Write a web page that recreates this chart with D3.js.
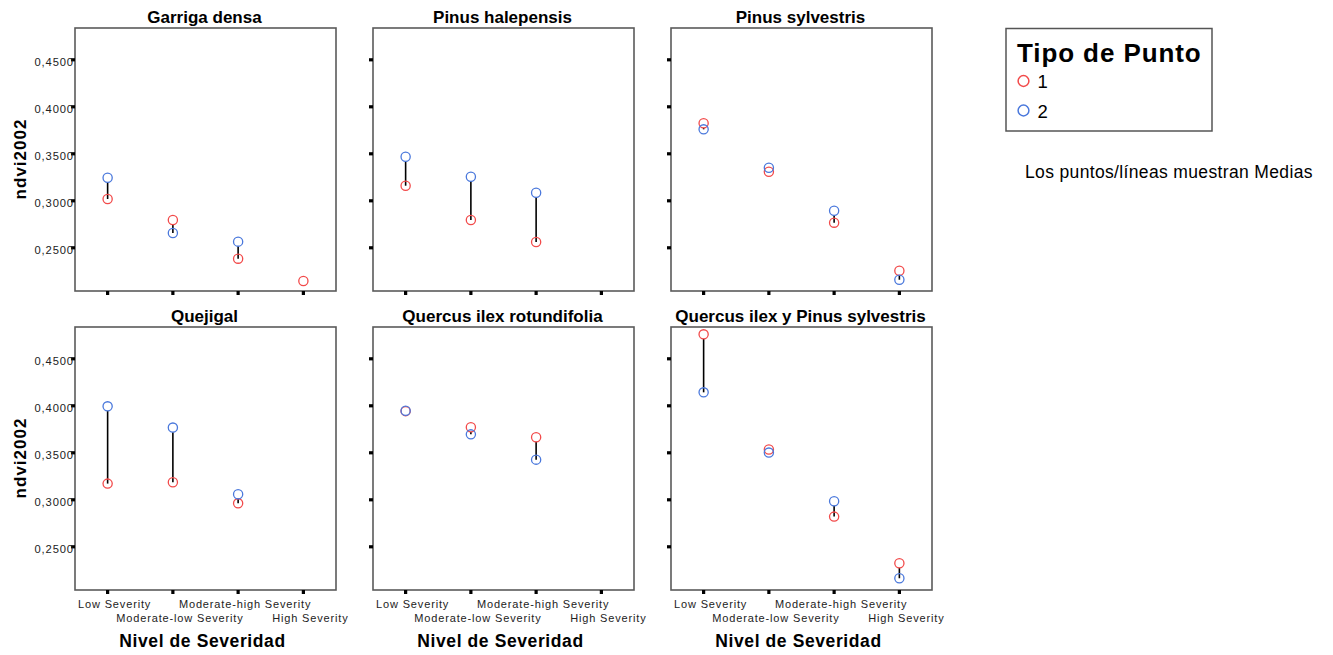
<!DOCTYPE html>
<html>
<head>
<meta charset="utf-8">
<script src="https://cdn.jsdelivr.net/npm/d3@7"></script>
<style>
  html, body { margin: 0; padding: 0; background: #fff; }
  svg { display: block; font-family: "Liberation Sans", Arial, sans-serif; }
</style>
</head>
<body>
<svg id="chart" width="1333" height="655"></svg>
<script>
// Severity levels on the x axis of every panel
const categories = ["Low Severity", "Moderate-low Severity", "Moderate-high Severity", "High Severity"];

// Vegetation types, one panel each (row by row)
const species = [
  "Garriga densa", "Pinus halepensis", "Pinus sylvestris",
  "Quejigal", "Quercus ilex rotundifolia", "Quercus ilex y Pinus sylvestris"
];

// Mean ndvi2002 per panel and severity level, Tipo de Punto = 1 (null = no data)
const tipo1 = [
  [0.3014, 0.2790, 0.2379, 0.2141],
  [0.3155, 0.2790, 0.2556, null],
  [0.3819, 0.3304, 0.2762, 0.2251],
  [0.3167, 0.3181, 0.2957, null],
  [0.3938, 0.3766, 0.3660, null],
  [0.4755, 0.3529, 0.2816, 0.2319]
];

// Mean ndvi2002 per panel and severity level, Tipo de Punto = 2
const tipo2 = [
  [0.3240, 0.2652, 0.2560, null],
  [0.3464, 0.3251, 0.3081, null],
  [0.3755, 0.3347, 0.2889, 0.2155],
  [0.3989, 0.3763, 0.3053, null],
  [0.3942, 0.3691, 0.3422, null],
  [0.4138, 0.3497, 0.2979, 0.2160]
];

const yTicks = [0.25, 0.30, 0.35, 0.40, 0.45];
const yDomain = [0.2035, 0.4833];
const legendLabels = ["1", "2"];
const seriesColors = ["#f24a4a", "#4a78dc"];

const svg = d3.select("#chart");
const fmt = v => d3.format(".4f")(v).replace(".", ",");

const panelLeft = [75, 373, 671];
const panelTop = [28, 327];
const panelW = 261, panelH = 263;
const r = 4.6;

species.forEach((name, i) => {
  const col = i % 3, row = Math.floor(i / 3);
  const x0 = panelLeft[col], y0 = panelTop[row];

  const x = d3.scaleBand().domain(categories).range([x0, x0 + panelW]).padding(0);
  const y = d3.scaleLinear().domain(yDomain).range([y0 + panelH, y0]);

  const g = svg.append("g");

  // frame
  g.append("rect")
    .attr("x", x0).attr("y", y0)
    .attr("width", panelW).attr("height", panelH)
    .attr("fill", "none").attr("stroke", "#5a5a5a").attr("stroke-width", 1.6);

  // panel title
  g.append("text")
    .attr("x", x0 + panelW / 2 - 1).attr("y", y0 - 5.5)
    .attr("text-anchor", "middle")
    .attr("font-size", 17).attr("font-weight", "bold")
    .text(name);

  // y axis
  const yAxis = d3.axisLeft(y).tickValues(yTicks).tickSize(4).tickPadding(-3)
    .tickFormat(col === 0 ? fmt : () => "");
  const ya = g.append("g").attr("transform", `translate(${x0},0)`).call(yAxis);
  ya.select(".domain").remove();
  ya.selectAll(".tick line").attr("stroke", "#000").attr("stroke-width", 3.2);
  ya.selectAll(".tick text")
    .attr("font-family", "Liberation Sans, Arial, sans-serif")
    .attr("font-size", 11.2).attr("letter-spacing", 0.9)
    .attr("fill", "#222").attr("dy", "0.56em");

  // x axis
  const xAxis = d3.axisBottom(x).tickSize(4).tickFormat(() => "");
  const xa = g.append("g").attr("transform", `translate(0,${y0 + panelH})`).call(xAxis);
  xa.select(".domain").remove();
  xa.selectAll(".tick line").attr("stroke", "#000").attr("stroke-width", 3.2);

  if (row === 1) {
    categories.forEach((c, k) => {
      g.append("text")
        .attr("x", x(c) + x.bandwidth() / 2 + 7)
        .attr("y", y0 + panelH + (k % 2 === 0 ? 17.5 : 32))
        .attr("text-anchor", "middle")
        .attr("font-size", 11).attr("letter-spacing", 0.85).attr("fill", "#222")
        .text(c);
    });
    g.append("text")
      .attr("x", x0 + panelW / 2 - 3).attr("y", 646.5)
      .attr("text-anchor", "middle")
      .attr("font-size", 17.5).attr("font-weight", "bold").attr("letter-spacing", 0.6)
      .text("Nivel de Severidad");
  }

  if (col === 0) {
    g.append("text")
      .attr("transform", `translate(25.5,${y0 + 131}) rotate(-90)`)
      .attr("text-anchor", "middle")
      .attr("font-size", 17).attr("font-weight", "bold").attr("letter-spacing", 1)
      .text("ndvi2002");
  }

  // connecting lines between the two means
  categories.forEach((c, k) => {
    const a = tipo1[i][k], b = tipo2[i][k];
    if (a == null || b == null) return;
    const cx = x(c) + x.bandwidth() / 2;
    const yt = Math.min(y(a), y(b)), yb = Math.max(y(a), y(b));
    if (yb - (yt + r) <= 0) return;
    g.append("line")
      .attr("x1", cx).attr("x2", cx)
      .attr("y1", yt + r).attr("y2", yb)
      .attr("stroke", "#000").attr("stroke-width", 1.6);
  });

  // mean markers
  [tipo1[i], tipo2[i]].forEach((vals, s) => {
    g.selectAll(null)
      .data(categories.map((c, k) => ({ c, v: vals[k] })).filter(d => d.v != null))
      .enter().append("circle")
      .attr("cx", d => x(d.c) + x.bandwidth() / 2)
      .attr("cy", d => y(d.v))
      .attr("r", r)
      .attr("fill", "none")
      .attr("stroke", seriesColors[s])
      .attr("stroke-width", 1.3);
  });
});

// legend
const lg = svg.append("g");
lg.append("rect")
  .attr("x", 1006).attr("y", 28.5).attr("width", 206).attr("height", 102.5)
  .attr("fill", "none").attr("stroke", "#555").attr("stroke-width", 1.5);
lg.append("text")
  .attr("x", 1017).attr("y", 62)
  .attr("font-size", 26).attr("font-weight", "bold").attr("letter-spacing", 0.9)
  .text("Tipo de Punto");
legendLabels.forEach((t, k) => {
  const cy = 81 + k * 29.5;
  lg.append("circle")
    .attr("cx", 1023.5).attr("cy", cy).attr("r", 5.4)
    .attr("fill", "none").attr("stroke", seriesColors[k]).attr("stroke-width", 1.5);
  lg.append("text")
    .attr("x", 1037.5).attr("y", cy + 7)
    .attr("font-size", 18.5)
    .text(t);
});

svg.append("text")
  .attr("x", 1025).attr("y", 177.5)
  .attr("font-size", 17.5).attr("letter-spacing", 0.35)
  .text("Los puntos/líneas muestran Medias");
</script>
</body>
</html>
